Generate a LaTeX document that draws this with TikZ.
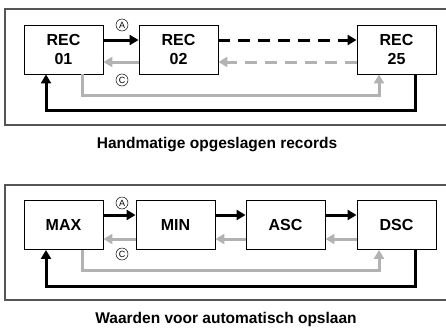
\documentclass[tikz,border=0pt]{standalone}
\usepackage{fontspec}
\setmainfont{Liberation Sans}
\usetikzlibrary{arrows.meta}
\definecolor{lgray}{HTML}{B2B2B2}
\definecolor{fgray}{HTML}{555555}
\tikzset{
  recbox/.style={draw, line width=0.9pt, minimum width=79pt, minimum height=49pt,
    align=center, font=\fontsize{16}{19}\selectfont\bfseries, inner sep=0pt},
  fwd/.style={line width=3pt, black, -{Triangle[length=9pt,width=10pt]}},
  bwd/.style={line width=3pt, lgray, -{Triangle[length=9pt,width=10pt]}},
  frame/.style={line width=1.4pt, fgray},
  circ/.style={circle, draw, line width=0.5pt, minimum size=12pt, inner sep=0pt,
    font=\fontsize{9}{9}\selectfont},
  caption/.style={anchor=base, inner sep=0pt, font=\fontsize{15.5}{17}\selectfont\bfseries}
}
\begin{document}
\begin{tikzpicture}[x=1pt, y=-1pt]
  \useasboundingbox (0,0) rectangle (446,327);
  % upper panel
  \draw[frame] (448,9) -- (5,9) -- (5,125) -- (448,125);
  \node[recbox] (rec01) at (63.5,49.5) {REC\\01};
  \node[recbox] (rec02) at (178.5,49.5) {REC\\02};
  \node[recbox] (rec25) at (396.5,49.5) {REC\\25};
  \draw[fwd] ([yshift=9.5pt]rec01.east) -- ([yshift=9.5pt]rec02.west);
  \draw[bwd] ([yshift=-12.5pt]rec02.west) -- ([yshift=-12.5pt]rec01.east);
  \draw[fwd, dash pattern=on 12pt off 8pt] ([yshift=9.5pt]rec02.east) -- ([yshift=9.5pt]rec25.west);
  \draw[bwd, dash pattern=on 12pt off 8pt] ([yshift=-12.5pt]rec25.west) -- ([yshift=-12.5pt]rec02.east);
  \draw[bwd] ([xshift=18.5pt]rec01.south) -- ++(0,21) -| ([xshift=-17.5pt]rec25.south);
  \draw[fwd] ([xshift=18.5pt]rec25.south) -- ++(0,36) -| ([xshift=-17.5pt]rec01.south);
  \node[circ] (a1) at (122,25) {A};
  \node[circ] (c1) at (122,80) {C};
  \node[caption] (cap1) at (217,148) {Handmatige opgeslagen records};
  % lower panel
  \draw[frame] (448,185) -- (5,185) -- (5,300) -- (448,300);
  \node[recbox] (max) at (63.5,225) {MAX};
  \node[recbox] (min) at (175.5,225) {MIN};
  \node[recbox] (asc) at (285.5,225) {ASC};
  \node[recbox] (dsc) at (396.5,225) {DSC};
  \foreach \from/\to in {max/min, min/asc, asc/dsc} {
    \draw[fwd] ([yshift=10pt]\from.east) -- ([yshift=10pt]\to.west);
    \draw[bwd] ([yshift=-14pt]\to.west) -- ([yshift=-14pt]\from.east);
  }
  \draw[bwd] ([xshift=18.5pt]max.south) -- ++(0,21) -| ([xshift=-17.5pt]dsc.south);
  \draw[fwd] ([xshift=18.5pt]dsc.south) -- ++(0,37) -| ([xshift=-17.5pt]max.south);
  \node[circ] (a2) at (122,203) {A};
  \node[circ] (c2) at (122,254) {C};
  \node[caption] (cap2) at (226,323) {Waarden voor automatisch opslaan};
\end{tikzpicture}
\end{document}
